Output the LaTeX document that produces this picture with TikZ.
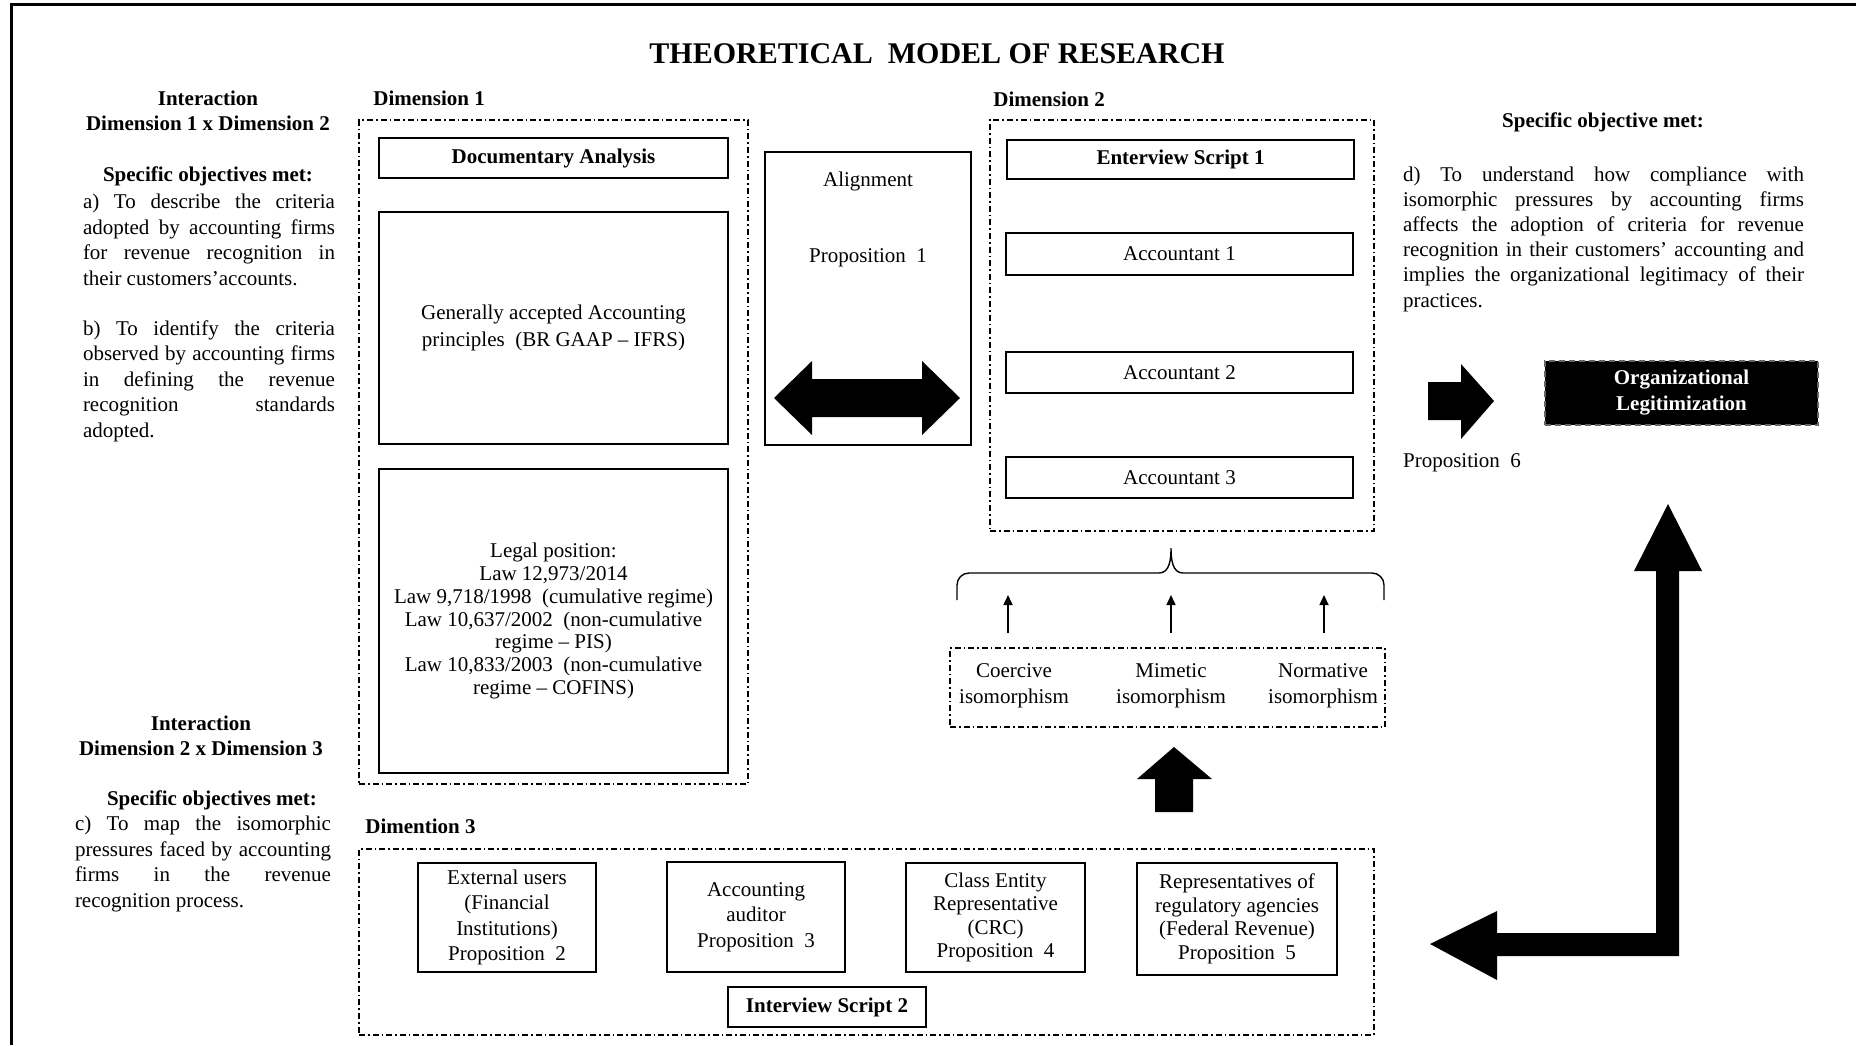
\documentclass[tikz,border=0pt]{standalone}
\usepackage{fontspec}
\setmainfont{Liberation Serif}
\usetikzlibrary{arrows.meta,positioning}
\setlength{\parindent}{0pt}

\begin{document}
\begin{tikzpicture}[x=0.5pt, y=-0.5pt,
    txt/.style={inner sep=0pt, align=center, font=\fontsize{10.5}{12.8}\selectfont},
    btxt/.style={inner sep=0pt, align=center, font=\fontsize{10.5}{12.8}\selectfont\bfseries},
    para/.style={inner sep=0pt, align=justify, font=\fontsize{10.5}{12.75}\selectfont},
    box/.style={draw, line width=0.8pt, inner sep=0pt, align=center, font=\fontsize{10.5}{12.8}\selectfont},
    dimbox/.style={draw, line width=0.6pt, inner sep=0pt, dash pattern=on 3pt off 1.5pt on 0.8pt off 1.5pt},
    blockarrow/.style={fill=black, draw=none}]
    \useasboundingbox (0,0) rectangle (1856,1045);

    % Frame and title
    \draw[line width=1.5pt] (11,1045) -- (11,4.5) -- (1856,4.5);
    \node[font=\fontsize{15}{18}\selectfont\bfseries] (title) at (937,54) {THEORETICAL\ \ MODEL OF RESEARCH};

    % Left column: interaction 1 x 2
    \node[btxt] (int12) at (208,111) {Interaction\\Dimension 1 x Dimension 2};
    \node[btxt] (obj12) at (208,176) {Specific objectives met:};
    \node[para, text width=126pt] (obja) at (209,240) {a) To describe the criteria\linebreak adopted by accounting firms\linebreak for revenue recognition in\linebreak their customers’accounts.};
    \node[para, text width=126pt] (objb) at (209,381) {b) To identify the criteria\linebreak observed by accounting firms\linebreak in defining the revenue\linebreak recognition standards\linebreak adopted.};

    % Left column: interaction 2 x 3
    \node[btxt] (int23) at (201,736) {Interaction\\Dimension 2 x Dimension 3};
    \node[btxt] (obj23) at (212,800) {Specific objectives met:};
    \node[para, text width=128pt] (objc) at (203,864) {c) To map the isomorphic\linebreak pressures faced by accounting\linebreak firms in the revenue\linebreak recognition process.};

    % Dimension 1
    \node[btxt, anchor=west] (dim1lbl) at (373,98) {Dimension 1};
    \node[dimbox, minimum width=194.5pt, minimum height=332pt] (dim1) at (553.5,452) {};
    \node[box, font=\fontsize{10.5}{12.8}\selectfont\bfseries, minimum width=174.5pt, minimum height=20pt] (doc) at (553.5,158) {Documentary Analysis};
    \node[box, font=\fontsize{10.5}{13.5}\selectfont, minimum width=174.5pt, minimum height=116pt] (gaap) at (553.5,328) {Generally accepted Accounting\\principles~ (BR GAAP – IFRS)};
    \node[box, font=\fontsize{10.5}{11.45}\selectfont, minimum width=174.5pt, minimum height=152pt] (legal) at (553.5,621) {Legal position:\\Law 12,973/2014\\Law 9,718/1998~ (cumulative regime)\\Law 10,637/2002~ (non-cumulative\\regime – PIS)\\Law 10,833/2003~ (non-cumulative\\regime – COFINS)};

    % Alignment
    \node[box, minimum width=103pt, minimum height=146.5pt] (align) at (868,298.5) {};
    \node[txt] (alignlbl) at (868,181) {Alignment};
    \node[txt] (prop1) at (868,258) {Proposition~ 1};
    \fill[blockarrow] (774,398) -- (812,361) -- (812,379) -- (922,379) -- (922,361) -- (960,398)
        -- (922,435) -- (922,417) -- (812,417) -- (812,435) -- cycle;

    % Dimension 2
    \node[btxt, anchor=west] (dim2lbl) at (993,99) {Dimension 2};
    \node[dimbox, minimum width=192pt, minimum height=205.5pt] (dim2) at (1182,325.5) {};
    \node[box, font=\fontsize{10.5}{12.8}\selectfont\bfseries, minimum width=173.5pt, minimum height=19.5pt] (es1) at (1180.5,159.5) {Enterview Script 1};
    \node[box, minimum width=173.5pt, minimum height=21pt] (acc1) at (1179.5,254) {Accountant 1};
    \node[box, minimum width=173.5pt, minimum height=20.5pt] (acc2) at (1179.5,372.5) {Accountant 2};
    \node[box, minimum width=173.5pt, minimum height=20.5pt] (acc3) at (1179.5,477.5) {Accountant 3};

    % Brace over the pressures
    \draw[line width=0.7pt] (957,600) -- (957,585) to[out=90,in=180] (969,573) -- (1159,573)
        to[out=0,in=-90] (1171,548) to[out=-90,in=180] (1183,573) -- (1372,573)
        to[out=0,in=90] (1384,585) -- (1384,600);
    \foreach \x [count=\i] in {1008,1171,1324} {
        \coordinate (up\i) at (\x,633);
        \coordinate (br\i) at (\x,595);
        \draw[line width=0.8pt, -{Triangle[length=5pt,width=4.5pt]}] (up\i) -- (br\i);
    }

    % Isomorphic pressures
    \node[dimbox, minimum width=217.5pt, minimum height=39.5pt] (iso) at (1167.5,687.5) {};
    \node[txt, font=\fontsize{10.5}{13}\selectfont] (coer) at (1014,686) {Coercive\\isomorphism};
    \node[txt, font=\fontsize{10.5}{13}\selectfont] (mim) at (1171,686) {Mimetic\\isomorphism};
    \node[txt, font=\fontsize{10.5}{13}\selectfont] (norm) at (1323,686) {Normative\\isomorphism};
    \fill[blockarrow] (1174,747) -- (1212,779) -- (1193,779) -- (1193,812) -- (1155,812)
        -- (1155,779) -- (1137,779) -- cycle;

    % Dimension 3
    \node[btxt, anchor=west] (dim3lbl) at (365,826) {Dimention 3};
    \node[dimbox, minimum width=507.5pt, minimum height=93pt] (dim3) at (866.5,942) {};
    \node[box, font=\fontsize{10.5}{12.8}\selectfont, minimum width=89pt, minimum height=54.5pt] (ext) at (507,917.5) {External users\\(Financial\\Institutions)\\Proposition~ 2};
    \node[box, font=\fontsize{10.5}{12.7}\selectfont, minimum width=89pt, minimum height=55pt] (aud) at (756,917) {Accounting\\auditor\\Proposition~ 3};
    \node[box, font=\fontsize{10.5}{11.7}\selectfont, minimum width=89.5pt, minimum height=54.5pt] (crc) at (995.5,917.5) {Class Entity\\Representative\\(CRC)\\Proposition~ 4};
    \node[box, font=\fontsize{10.5}{11.8}\selectfont, minimum width=100pt, minimum height=56pt] (rep) at (1237,919) {Representatives of\\regulatory agencies\\(Federal Revenue)\\Proposition~ 5};
    \node[box, font=\fontsize{10.5}{12.8}\selectfont\bfseries, minimum width=99pt, minimum height=20pt] (is2) at (827,1007) {Interview Script 2};

    % Right column
    \node[btxt] (obj3) at (1603,122) {Specific objective met:};
    \node[para, font=\fontsize{10.5}{12.6}\selectfont, text width=200.5pt] (objd) at (1603.5,239) {d) To understand how compliance with\linebreak isomorphic pressures by accounting firms\linebreak affects the adoption of criteria for revenue\linebreak recognition in their customers’ accounting and\linebreak implies the organizational legitimacy of their\linebreak practices.};
    \fill[blockarrow] (1428,382) -- (1461,382) -- (1461,364) -- (1494,401) -- (1461,439)
        -- (1461,420) -- (1428,420) -- cycle;
    \node[txt] (prop6) at (1462,463) {Proposition~ 6};
    \node[box, fill=black, draw=black!60, line width=0.6pt, densely dashed, text=white,
        font=\fontsize{10.5}{13}\selectfont\bfseries, minimum width=136.5pt, minimum height=32pt] (org) at (1681.5,393) {Organizational\\Legitimization};

    % Feedback arrow
    \fill[blockarrow] (1668,504) -- (1702,571) -- (1679,571) -- (1679,956) -- (1497,956)
        -- (1497,980) -- (1430,944) -- (1497,911) -- (1497,933) -- (1656,933)
        -- (1656,571) -- (1634,571) -- cycle;
\end{tikzpicture}
\end{document}
